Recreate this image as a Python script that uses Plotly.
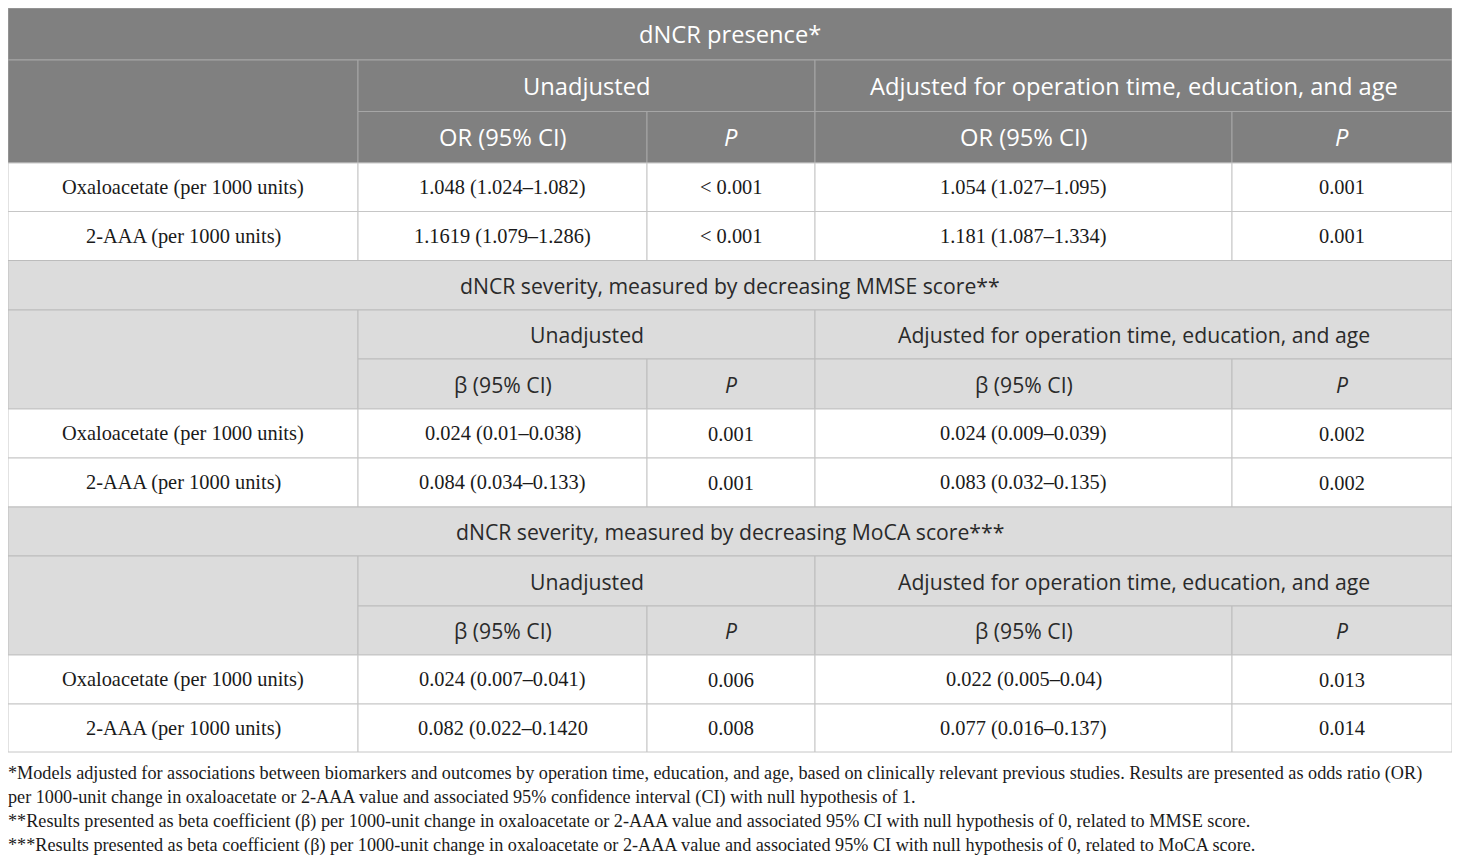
import plotly.graph_objects as go

# ---- table content ----
sections = [
    "dNCR presence*",
    "dNCR severity, measured by decreasing MMSE score**",
    "dNCR severity, measured by decreasing MoCA score***",
]
group_labels = ["Unadjusted", "Adjusted for operation time, education, and age"]
stat_labels = ["OR (95% CI)", "β (95% CI)", "β (95% CI)"]
p_label = "<i>P</i>"
biomarkers = ["Oxaloacetate (per 1000 units)", "2-AAA (per 1000 units)"]

unadj_est = [
    ["1.048 (1.024–1.082)", "1.1619 (1.079–1.286)"],
    ["0.024 (0.01–0.038)", "0.084 (0.034–0.133)"],
    ["0.024 (0.007–0.041)", "0.082 (0.022–0.1420"],
]
unadj_p = [
    ["< 0.001", "< 0.001"],
    ["0.001", "0.001"],
    ["0.006", "0.008"],
]
adj_est = [
    ["1.054 (1.027–1.095)", "1.181 (1.087–1.334)"],
    ["0.024 (0.009–0.039)", "0.083 (0.032–0.135)"],
    ["0.022 (0.005–0.04)", "0.077 (0.016–0.137)"],
]
adj_p = [
    ["0.001", "0.001"],
    ["0.002", "0.002"],
    ["0.013", "0.014"],
]

footnotes = [
    "*Models adjusted for associations between biomarkers and outcomes by operation time, education, and age, based on clinically relevant previous studies. Results are presented as odds ratio (OR)",
    "per 1000-unit change in oxaloacetate or 2-AAA value and associated 95% confidence interval (CI) with null hypothesis of 1.",
    "**Results presented as beta coefficient (β) per 1000-unit change in oxaloacetate or 2-AAA value and associated 95% CI with null hypothesis of 0, related to MMSE score.",
    "***Results presented as beta coefficient (β) per 1000-unit change in oxaloacetate or 2-AAA value and associated 95% CI with null hypothesis of 0, related to MoCA score.",
]

# ---- layout geometry (page pixels) ----
# the page body has an 8px margin, so the figure starts at (8, 8)
W, H = 1460, 864
OFF = 8
col_x = [8, 358, 647, 815, 1232, 1452]
row_y = [8, 60, 111.5, 163, 211.5, 260.5, 310, 359, 409, 458, 507, 556, 606, 655, 704, 752]
foot_y = [773, 797, 821, 845]

SANS = "Open Sans"
SERIF = "Liberation Serif"
DARK_FILL, DARK_LINE, DARK_TEXT = "#808080", "#a6a6a6", "#ffffff"
LIGHT_FILL, LIGHT_LINE, LIGHT_TEXT = "#dcdcdc", "#bcbcbc", "#2a2a2a"
BODY_FILL, BODY_LINE, BODY_TEXT = "#ffffff", "#c6c6c6", "#1a1a1a"

fig = go.Figure()
shapes, annotations = [], []


def cell(x0, x1, y0, y1, text, fill, line, color, family, size):
    shapes.append(dict(type="rect", xref="x", yref="y", x0=x0, x1=x1, y0=y0, y1=y1,
                       fillcolor=fill, line=dict(color=line, width=1), layer="below"))
    if text:
        annotations.append(dict(x=(x0 + x1) / 2, y=(y0 + y1) / 2, xref="x", yref="y",
                                text=text, showarrow=False, xanchor="center", yanchor="middle",
                                font=dict(family=family, size=size, color=color)))


for s, title in enumerate(sections):
    r = s * 5
    ys = row_y[r:r + 6]
    if s == 0:
        fill, line, tcol, hsize = DARK_FILL, DARK_LINE, DARK_TEXT, 23.7
    else:
        fill, line, tcol, hsize = LIGHT_FILL, LIGHT_LINE, LIGHT_TEXT, 21.2
    # title row
    cell(col_x[0], col_x[5], ys[0], ys[1], title, fill, line, tcol, SANS, hsize)
    # empty stub spanning two header rows
    cell(col_x[0], col_x[1], ys[1], ys[3], "", fill, line, tcol, SANS, hsize)
    # group headers
    cell(col_x[1], col_x[3], ys[1], ys[2], group_labels[0], fill, line, tcol, SANS, hsize)
    cell(col_x[3], col_x[5], ys[1], ys[2], group_labels[1], fill, line, tcol, SANS, hsize)
    # stat headers
    cell(col_x[1], col_x[2], ys[2], ys[3], stat_labels[s], fill, line, tcol, SANS, hsize)
    cell(col_x[2], col_x[3], ys[2], ys[3], p_label, fill, line, tcol, SANS, hsize)
    cell(col_x[3], col_x[4], ys[2], ys[3], stat_labels[s], fill, line, tcol, SANS, hsize)
    cell(col_x[4], col_x[5], ys[2], ys[3], p_label, fill, line, tcol, SANS, hsize)
    # data rows
    for i, name in enumerate(biomarkers):
        y0, y1 = ys[3 + i], ys[4 + i]
        vals = [name, unadj_est[s][i], unadj_p[s][i], adj_est[s][i], adj_p[s][i]]
        for c, v in enumerate(vals):
            cell(col_x[c], col_x[c + 1], y0, y1, v, BODY_FILL, BODY_LINE, BODY_TEXT, SERIF, 20.4)

for txt, fy in zip(footnotes, foot_y):
    annotations.append(dict(x=col_x[0], y=fy, xref="x", yref="y", text=txt, showarrow=False,
                            xanchor="left", yanchor="middle", xshift=-2,
                            font=dict(family=SERIF, size=18.2, color=BODY_TEXT)))

fig.update_layout(
    width=W - OFF, height=H - OFF,
    margin=dict(l=0, r=0, t=0, b=0),
    paper_bgcolor="white", plot_bgcolor="white",
    xaxis=dict(range=[OFF, W], visible=False, fixedrange=True),
    yaxis=dict(range=[H, OFF], visible=False, fixedrange=True),
    shapes=shapes, annotations=annotations,
    showlegend=False,
)

fig.write_html("out.html")
